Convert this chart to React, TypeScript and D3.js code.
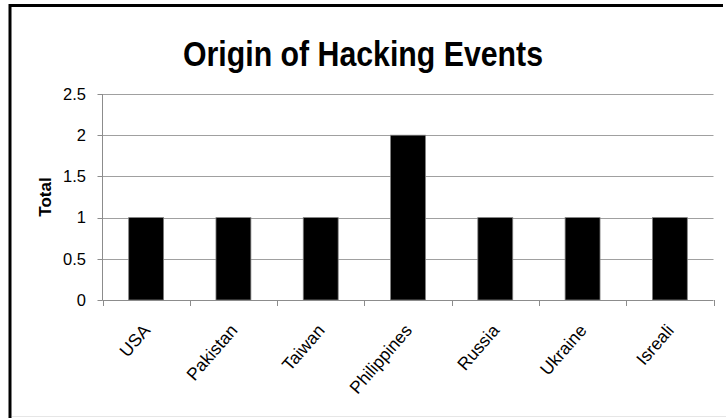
// Bar chart: origin of hacking events, drawn with D3 through a ref
import React, { useEffect, useRef } from 'react';
import * as d3 from 'd3';

const countries = ['USA', 'Pakistan', 'Taiwan', 'Philippines', 'Russia', 'Ukraine', 'Isreali'];
const totals = [1, 1, 1, 2, 1, 1, 1];
const yTicks = [0, 0.5, 1, 1.5, 2, 2.5];

const App: React.FC = () => {
  const svgRef = useRef<SVGSVGElement>(null);

  useEffect(() => {
    if (!svgRef.current) return;
    const svg = d3.select(svgRef.current);
    svg.selectAll('*').remove();

    const width = 726;
    const left = 102.5;
    const right = 713.5;
    const top = 94;
    const bottom = 300;

    // рамка: сверху и слева чёрная, снизу светлая тень
    svg.append('path')
      .attr('d', 'M10,418 L10,5.5 L723,5.5')
      .attr('fill', 'none')
      .attr('stroke', '#000')
      .attr('stroke-width', 3);
    svg.append('line')
      .attr('x1', 12).attr('x2', width)
      .attr('y1', 416.5).attr('y2', 416.5)
      .attr('stroke', '#e6e6e6');

    // заголовок
    svg.append('text')
      .attr('x', 363).attr('y', 66)
      .attr('text-anchor', 'middle')
      .attr('font-family', '"Liberation Sans", Arial, sans-serif')
      .attr('font-weight', 'bold')
      .attr('font-size', 35)
      .attr('textLength', 360)
      .attr('lengthAdjust', 'spacingAndGlyphs')
      .attr('fill', '#000')
      .text('Origin of Hacking Events');

    const x = d3.scaleBand<string>()
      .domain(countries)
      .range([left, right])
      .paddingInner(0.6)
      .paddingOuter(0.3);

    const y = d3.scaleLinear().domain([0, 2.5]).range([bottom, top]);

    const font = '"Liberation Sans", Arial, sans-serif';

    // сетка
    svg.append('g')
      .selectAll('line')
      .data(yTicks.filter((d) => d > 0))
      .enter()
      .append('line')
      .attr('x1', left).attr('x2', right)
      .attr('y1', (d) => Math.round(y(d)) + 0.5)
      .attr('y2', (d) => Math.round(y(d)) + 0.5)
      .attr('stroke', '#a0a0a0')
      .attr('stroke-width', 1);

    // ось Y
    const yAxis = svg.append('g');
    yAxis.append('line')
      .attr('x1', left).attr('x2', left)
      .attr('y1', top).attr('y2', bottom + 0.5)
      .attr('stroke', '#8c8c8c');
    yAxis.selectAll('line.tick')
      .data(yTicks)
      .enter()
      .append('line')
      .attr('class', 'tick')
      .attr('x1', left - 5).attr('x2', left)
      .attr('y1', (d) => Math.round(y(d)) + 0.5)
      .attr('y2', (d) => Math.round(y(d)) + 0.5)
      .attr('stroke', '#8c8c8c');
    yAxis.selectAll('text')
      .data(yTicks)
      .enter()
      .append('text')
      .attr('x', 86)
      .attr('y', (d) => y(d))
      .attr('dy', '0.35em')
      .attr('text-anchor', 'end')
      .attr('font-family', font)
      .attr('font-size', 16.5)
      .attr('fill', '#000')
      .text((d) => String(d));

    svg.append('text')
      .attr('transform', `translate(51,197) rotate(-90)`)
      .attr('text-anchor', 'middle')
      .attr('font-family', font)
      .attr('font-weight', 'bold')
      .attr('font-size', 17)
      .attr('fill', '#000')
      .text('Total');

    // столбцы
    svg.append('g')
      .selectAll('rect')
      .data(countries)
      .enter()
      .append('rect')
      .attr('x', (d) => x(d)!)
      .attr('y', (d, i) => y(totals[i]))
      .attr('width', x.bandwidth())
      .attr('height', (d, i) => bottom - y(totals[i]))
      .attr('fill', '#000')
      .attr('stroke', '#808080')
      .attr('stroke-width', 0.8);

    // ось X
    const xAxis = svg.append('g');
    xAxis.append('line')
      .attr('x1', left).attr('x2', right)
      .attr('y1', bottom + 0.5).attr('y2', bottom + 0.5)
      .attr('stroke', '#8c8c8c');
    xAxis.selectAll('line.tick')
      .data(d3.range(countries.length + 1))
      .enter()
      .append('line')
      .attr('class', 'tick')
      .attr('x1', (i) => Math.round(left + i * (right - left) / countries.length) + 0.5)
      .attr('x2', (i) => Math.round(left + i * (right - left) / countries.length) + 0.5)
      .attr('y1', bottom).attr('y2', bottom + 6)
      .attr('stroke', '#8c8c8c');
    xAxis.selectAll('text')
      .data(countries)
      .enter()
      .append('text')
      .attr('transform', (d) => `translate(${x(d)! + x.bandwidth() / 2 + 5},${bottom + 31}) rotate(-49)`)
      .attr('text-anchor', 'end')
      .attr('font-family', font)
      .attr('font-size', 17.5)
      .attr('fill', '#000')
      .text((d) => d);
  }, []);

  return (
    <svg
      ref={svgRef}
      width={726}
      height={418}
      style={{ position: 'absolute', left: 0, top: 0, display: 'block', background: '#fff' }}
    />
  );
};

export default App;
